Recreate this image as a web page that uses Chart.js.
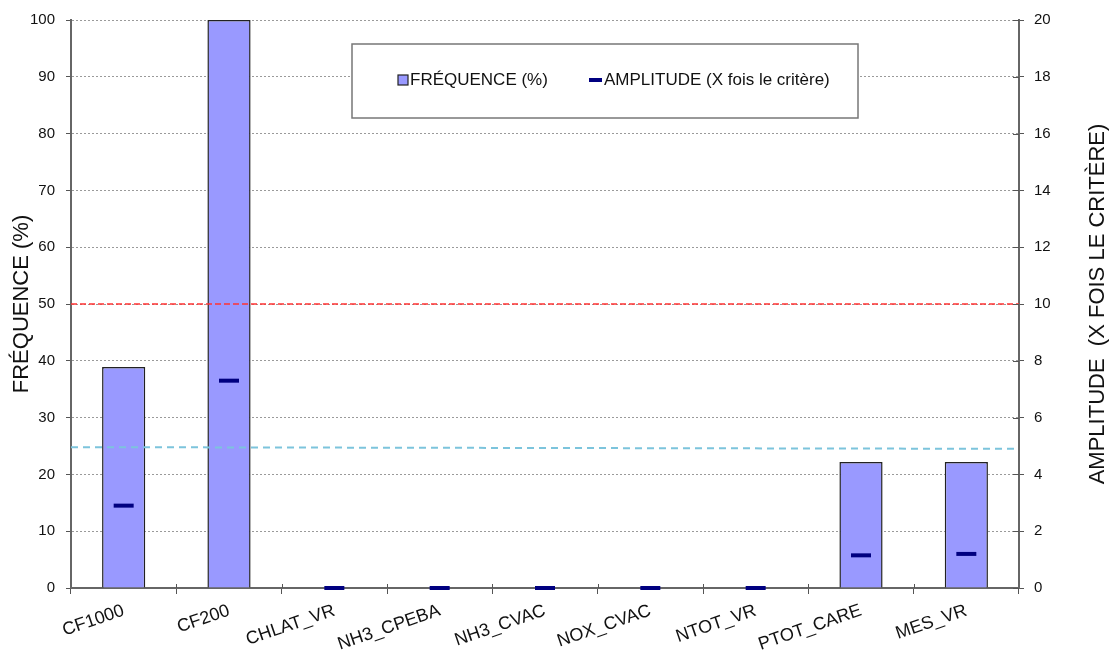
<!DOCTYPE html>
<html lang="fr">
<head>
<meta charset="utf-8">
<title>Fréquence et amplitude des dépassements</title>
<script src="https://cdn.jsdelivr.net/npm/chart.js@4.4.1/dist/chart.umd.min.js"></script>
<style>
  html, body { margin: 0; padding: 0; background: #fff; }
  #wrap { width: 1110px; height: 656px; position: relative; }
</style>
</head>
<body>
<div id="wrap"><canvas id="chart"></canvas></div>
<script>
// Stations / paramètres
const categories = ['CF1000', 'CF200', 'CHLAT_VR', 'NH3_CPEBA', 'NH3_CVAC', 'NOX_CVAC', 'NTOT_VR', 'PTOT_CARE', 'MES_VR'];
// Fréquence de dépassement (%)
const frequence = [38.9, 100, 0, 0, 0, 0, 0, 22.2, 22.2];
// Amplitude (X fois le critère)
const amplitude = [2.9, 7.3, 0, 0, 0, 0, 0, 1.15, 1.2];

// Lignes de référence (axe fréquence)
const seuilRouge = 50;
const seuilBleuDebut = 24.8;
const seuilBleuFin = 24.5;

const police = "'Liberation Sans', Arial, sans-serif";

// Lignes pointillées, petites graduations intérieures, légende encadrée et titres d'axes
const decor = {
  id: 'decor',
  afterDatasetsDraw(chart) {
    const { ctx, chartArea: a, scales } = chart;
    const y = scales.y;
    const y1 = scales.y1;

    ctx.save();
    ctx.lineWidth = 1.5;
    ctx.strokeStyle = '#ff3333';
    ctx.setLineDash([6, 3]);
    ctx.beginPath();
    ctx.moveTo(a.left, y.getPixelForValue(seuilRouge));
    ctx.lineTo(a.right, y.getPixelForValue(seuilRouge));
    ctx.stroke();

    ctx.lineWidth = 2;
    ctx.strokeStyle = '#7cc4dc';
    ctx.setLineDash([7, 5]);
    ctx.beginPath();
    ctx.moveTo(a.left, y.getPixelForValue(seuilBleuDebut));
    ctx.lineTo(a.right, y.getPixelForValue(seuilBleuFin));
    ctx.stroke();
    ctx.setLineDash([]);

    // graduations qui traversent l'axe droit et l'axe des catégories
    ctx.strokeStyle = '#555';
    ctx.lineWidth = 1;
    ctx.beginPath();
    y1.ticks.forEach(t => {
      const py = Math.round(y1.getPixelForValue(t.value)) + 0.5;
      ctx.moveTo(a.right - 6, py);
      ctx.lineTo(a.right, py);
    });
    const pas = (a.right - a.left) / categories.length;
    for (let i = 1; i < categories.length; i++) {
      const px = Math.round(a.left + i * pas) + 0.5;
      ctx.moveTo(px, a.bottom - 4);
      ctx.lineTo(px, a.bottom);
    }
    ctx.stroke();

    // légende
    ctx.fillStyle = '#fff';
    ctx.fillRect(352, 44, 506, 74);
    ctx.strokeStyle = '#777';
    ctx.lineWidth = 1.5;
    ctx.strokeRect(352, 44, 506, 74);

    ctx.fillStyle = '#9999ff';
    ctx.fillRect(398, 75, 10, 10);
    ctx.strokeStyle = '#222';
    ctx.lineWidth = 1.2;
    ctx.strokeRect(398, 75, 10, 10);

    ctx.fillStyle = '#000080';
    ctx.fillRect(589, 78, 13, 4);

    ctx.fillStyle = '#111';
    ctx.font = '17px ' + police;
    ctx.textBaseline = 'middle';
    ctx.textAlign = 'left';
    ctx.fillText('FRÉQUENCE (%)', 410, 80);
    ctx.fillText('AMPLITUDE (X fois le critère)', 604, 80);

    // titres des axes, tous deux de bas en haut
    ctx.font = '22px ' + police;
    ctx.textAlign = 'center';
    const cy = (a.top + a.bottom) / 2;
    ctx.translate(22, cy);
    ctx.rotate(-Math.PI / 2);
    ctx.fillText('FRÉQUENCE (%)', 0, 0);
    ctx.rotate(Math.PI / 2);
    ctx.translate(-22, -cy);
    ctx.translate(1098, cy);
    ctx.rotate(-Math.PI / 2);
    ctx.fillText('AMPLITUDE  (X FOIS LE CRITÈRE)', 0, 0);
    ctx.restore();
  }
};

new Chart(document.getElementById('chart'), {
  data: {
    labels: categories,
    datasets: [
      {
        type: 'line',
        label: 'AMPLITUDE (X fois le critère)',
        data: amplitude,
        yAxisID: 'y1',
        showLine: false,
        pointStyle: 'line',
        pointRadius: 10,
        pointHoverRadius: 10,
        pointBorderWidth: 4,
        borderColor: '#000080',
        backgroundColor: '#000080',
        clip: false,
        order: 0
      },
      {
        type: 'bar',
        label: 'FRÉQUENCE (%)',
        data: frequence,
        yAxisID: 'y',
        backgroundColor: '#9999ff',
        borderColor: '#222',
        borderWidth: 1.5,
        categoryPercentage: 1,
        barPercentage: 0.41,
        order: 1
      }
    ]
  },
  options: {
    responsive: true,
    maintainAspectRatio: false,
    animation: false,
    layout: { padding: { top: 20, left: 0, right: 0, bottom: 0 } },
    plugins: { legend: { display: false }, tooltip: { enabled: false } },
    scales: {
      x: {
        afterFit: s => { s.height = 68; },
        grid: { offset: true, drawOnChartArea: false, tickLength: 6, tickColor: '#555', tickWidth: 1 },
        border: { color: '#666', width: 2 },
        ticks: {
          color: '#111',
          font: { family: police, size: 18 },
          minRotation: 19,
          maxRotation: 19,
          padding: 6
        }
      },
      y: {
        position: 'left',
        min: 0,
        max: 100,
        afterFit: s => { s.width = 71; },
        ticks: { stepSize: 10, color: '#111', font: { family: police, size: 15 }, padding: 11 },
        grid: { color: '#9a9a9a', lineWidth: 1, tickLength: 5, tickColor: '#555', tickBorderDash: [] },
        border: { color: '#666', width: 2, dash: [2, 2] }
      },
      y1: {
        position: 'right',
        min: 0,
        max: 20,
        afterFit: s => { s.width = 91; },
        ticks: { stepSize: 2, color: '#111', font: { family: police, size: 15 }, padding: 10 },
        grid: { drawOnChartArea: false, tickLength: 5, tickColor: '#555' },
        border: { color: '#666', width: 2 }
      }
    }
  },
  plugins: [decor]
});
</script>
</body>
</html>
